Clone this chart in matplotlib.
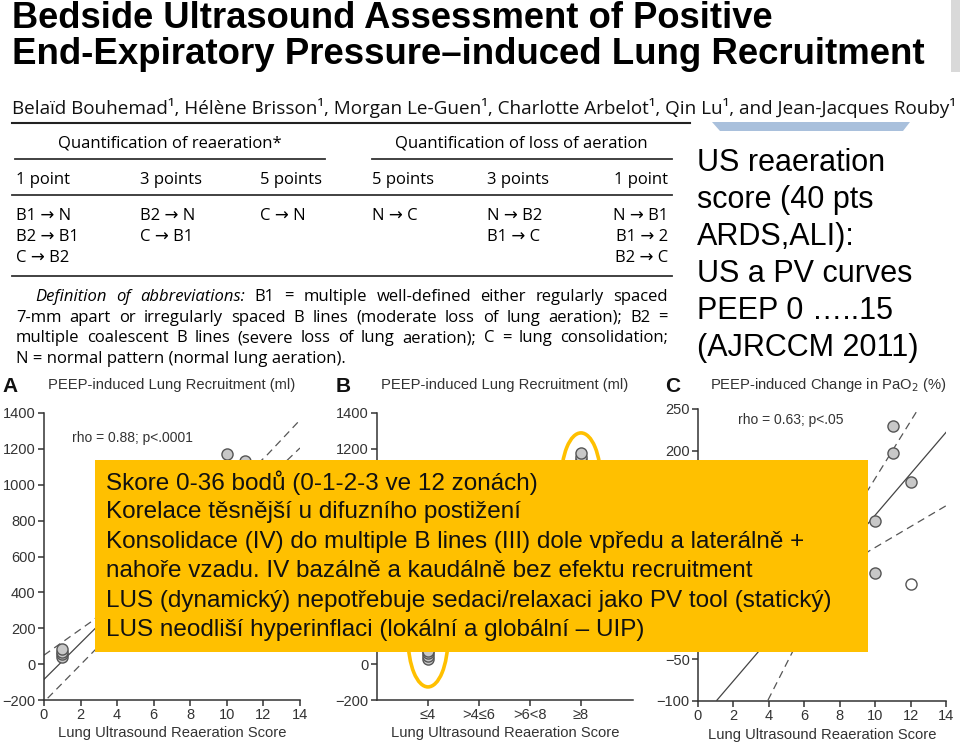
import matplotlib
matplotlib.use("Agg")
import matplotlib.pyplot as plt
from matplotlib.patches import Rectangle, Ellipse, Polygon

W, H = 960, 745

# ---- data ----
a_x = [1, 1, 1, 1, 10, 11]
a_y = [40, 55, 70, 85, 1170, 1135]
a_fit_x = [0, 12]
a_fit_y = [-85, 1132]
a_hi_x = [0, 2.7, 12.2, 14]
a_hi_y = [50, 245, 1166, 1361]
a_lo_x = [0.2, 2.8, 13.2, 14]
a_lo_y = [-190, 80, 1127, 1205]

b_cats = ['≤4', '>4≤6', '>6<8', '≥8']
b_pt_cat = ['≤4', '≤4', '≤4', '≤4', '≥8', '≥8', '≥8']
b_y = [30, 45, 60, 75, 1140, 1155, 1175]
b_ring_cat = ['≤4', '≥8']
b_ring_y = [143, 1019]

c_x = [11, 11, 12, 10, 10, 12]
c_y = [230, 197, 163, 116, 54, 40]
c_filled = [True, True, True, True, True, False]
c_fit_x = [1.07, 14]
c_fit_y = [-99, 222]
c_hi_x = [2, 9.6, 12.4]
c_hi_y = [-30, 153, 249]
c_lo_x = [3.95, 5.6, 9.6, 14]
c_lo_y = [-99, -30, 79, 134]

title_lines = ["Bedside Ultrasound Assessment of Positive",
               "End-Expiratory Pressure\u2013induced Lung Recruitment"]
authors = ("Bela\u00efd Bouhemad\u00b9, H\u00e9l\u00e8ne Brisson\u00b9, Morgan Le-Guen\u00b9, "
           "Charlotte Arbelot\u00b9, Qin Lu\u00b9, and Jean-Jacques Rouby\u00b9")
col_heads = ["1 point", "3 points", "5 points", "5 points", "3 points", "1 point"]
col_rows = [["B1 \u2192 N", "B2 \u2192 B1", "C \u2192 B2"],
            ["B2 \u2192 N", "C \u2192 B1"],
            ["C \u2192 N"],
            ["N \u2192 C"],
            ["N \u2192 B2", "B1 \u2192 C"],
            ["N \u2192 B1", "B1 \u2192 2", "B2 \u2192 C"]]
defs = ["7-mm apart or irregularly spaced B lines (moderate loss of lung aeration); B2 =",
        "multiple coalescent B lines (severe loss of lung aeration); C = lung consolidation;"]
side_lines = ["US reaeration", "score (40 pts", "ARDS,ALI):", "US a PV curves",
              "PEEP 0 \u2026..15", "(AJRCCM 2011)"]
box_lines = ["Skore 0-36 bod\u016f (0-1-2-3 ve 12 zon\u00e1ch)",
             "Korelace t\u011bsn\u011bj\u0161\u00ed u difuzn\u00edho posti\u017een\u00ed",
             "Konsolidace (IV) do multiple B lines (III) dole vp\u0159edu a later\u00e1ln\u011b +",
             "naho\u0159e vzadu. IV baz\u00e1ln\u011b a kaud\u00e1ln\u011b bez efektu recruitment",
             "LUS (dynamick\u00fd) nepot\u0159ebuje sedaci/relaxaci jako PV tool (statick\u00fd)",
             "LUS neodli\u0161\u00ed hyperinflaci (lok\u00e1ln\u00ed a glob\u00e1ln\u00ed \u2013 UIP)"]

plt.rcParams['font.family'] = ['Liberation Sans', 'DejaVu Sans']
tf = ['Open Sans', 'DejaVu Sans']
grey = '#333333'

fig = plt.figure(figsize=(W / 100, H / 100), dpi=100)
fig.patch.set_facecolor('white')
renderer = fig.canvas.get_renderer()


def fx(x):
    return x / W


def fy(y):
    return 1 - y / H


def ftext(x, y, s, **kw):
    kw.setdefault('va', 'center')
    return fig.text(fx(x), fy(y), s, **kw)


def fit(t, width, most=100):
    w = t.get_window_extent(renderer).width
    t.set_fontsize(min(most, t.get_fontsize() * width / w))


def hline(x0, x1, y, lw=1.3, color=grey):
    fig.add_artist(plt.Line2D([fx(x0), fx(x1)], [fy(y), fy(y)], lw=lw, color=color,
                              transform=fig.transFigure))


# ---- header ----
for s, y, w in zip(title_lines, [19, 55], [760, 916]):
    t = ftext(12, y, s, fontsize=26, weight='bold', color='black')
    fit(t, w, 28)
t = ftext(12, 108, authors, fontsize=12.2, family=tf, color='#111111')
fit(t, 943)
hline(12, 690, 123, lw=1.5, color='#222222')
fig.add_artist(Polygon([[fx(712), fy(122)], [fx(910), fy(122)], [fx(903), fy(131)], [fx(720), fy(131)]],
                       closed=True, facecolor='#a9c0dc', edgecolor='none', transform=fig.transFigure))
fig.add_artist(Rectangle((fx(951), fy(72)), fx(9), 72 / H, facecolor='#d9d9d9', edgecolor='none',
                         transform=fig.transFigure))

# ---- table ----
ts = 12
ftext(170, 144, "Quantification of reaeration*", fontsize=ts, family=tf, ha='center')
ftext(521, 144, "Quantification of loss of aeration", fontsize=ts, family=tf, ha='center')
hline(15, 325, 159)
hline(372, 672, 159)
hline(12, 672, 195)
hline(12, 672, 276)
col_x = [16, 140, 260, 372, 487, 668]
for i, (h, rows) in enumerate(zip(col_heads, col_rows)):
    ha = 'right' if i == 5 else 'left'
    ftext(col_x[i], 180, h, fontsize=ts, family=tf, ha=ha)
    for j, r in enumerate(rows):
        ftext(col_x[i], 216 + 21 * j, r, fontsize=ts, family=tf, ha=ha)


def justified(y, x0, x1, parts):
    tx = [ftext(0, y, w, fontsize=ts, family=tf, style=st) for w, st in parts]
    ws = [t.get_window_extent(renderer).width for t in tx]
    gap = (x1 - x0 - sum(ws)) / (len(tx) - 1)
    x = x0
    for t, w in zip(tx, ws):
        t.set_x(fx(x))
        x += w + gap


first = [("Definition", 'italic'), ("of", 'italic'), ("abbreviations:", 'italic')]
first += [(w, 'normal') for w in "B1 = multiple well-defined either regularly spaced".split()]
justified(297, 35, 668, first)
for k, line in enumerate(defs):
    justified(318 + 20.5 * k, 16, 668, [(w, 'normal') for w in line.split()])
ftext(16, 359, "N = normal pattern (normal lung aeration).", fontsize=ts, family=tf)

# ---- right side text ----
for k, s in enumerate(side_lines):
    ftext(697, 163 + 37 * k, s, fontsize=22)


# ---- scatter panels ----
def panel(l, t, r, b):
    ax = fig.add_axes([fx(l), fy(b), fx(r - l), (b - t) / H])
    for sp in ['top', 'right']:
        ax.spines[sp].set_visible(False)
    for sp in ['left', 'bottom']:
        ax.spines[sp].set_color(grey)
        ax.spines[sp].set_linewidth(1.1)
    ax.tick_params(colors=grey, labelsize=10.5, length=4, width=1.1, pad=2)
    ax.set_facecolor('none')
    return ax


mk = dict(marker='o', ms=8, mfc='#c8c8c8', mec='#555555', mew=1.0, ls='none', zorder=5)
dash = dict(color='#555555', lw=0.9, ls=(0, (6, 4)))

axA = panel(44, 413, 300, 700)
axA.plot(a_fit_x, a_fit_y, color='#444444', lw=0.9)
axA.plot(a_hi_x, a_hi_y, **dash)
axA.plot(a_lo_x, a_lo_y, **dash)
axA.plot(a_x, a_y, **mk)
axA.set_xlim(0, 14)
axA.set_ylim(-200, 1400)
axA.set_xticks(range(0, 15, 2))
axA.set_yticks(range(-200, 1401, 200))
axA.text(0.11, 0.9, "rho = 0.88; p<.0001", transform=axA.transAxes, fontsize=10, color=grey)

axB = panel(377, 413, 633, 700)
pos = {c: i + 1 for i, c in enumerate(b_cats)}
axB.plot([pos[c] for c in b_pt_cat], b_y, **mk)
for c, yc in zip(b_ring_cat, b_ring_y):
    axB.add_patch(Ellipse((pos[c], yc), 0.78, 540, fill=False, edgecolor='#FFC000', lw=2.6, zorder=6))
axB.set_xlim(0, 5.02)
axB.set_ylim(-200, 1400)
axB.set_xticks([pos[c] for c in b_cats])
axB.set_xticklabels(b_cats)
axB.set_yticks(range(-200, 1401, 200))

axC = panel(698, 409, 946, 701)
axC.plot(c_fit_x, c_fit_y, color='#444444', lw=0.9)
axC.plot(c_hi_x, c_hi_y, **dash)
axC.plot(c_lo_x, c_lo_y, **dash)
for x, y, f in zip(c_x, c_y, c_filled):
    axC.plot(x, y, **{**mk, 'mfc': '#c8c8c8' if f else 'white'})
axC.set_xlim(0, 14)
axC.set_ylim(-100, 250)
axC.set_xticks(range(0, 15, 2))
axC.set_yticks(range(-100, 251, 50))
axC.text(0.16, 0.95, "rho = 0.63; p<.05", transform=axC.transAxes, fontsize=10, color=grey)

for ax, lab, lx, tx, ttl in [(axA, 'A', 10, 48, "PEEP-induced Lung Recruitment (ml)"),
                             (axB, 'B', 343, 381, "PEEP-induced Lung Recruitment (ml)"),
                             (axC, 'C', 673, 710, "PEEP-induced Change in PaO$_2$ (%)")]:
    ax.set_xlabel("Lung Ultrasound Reaeration Score", fontsize=10.6, color=grey, labelpad=3)
    ftext(lx, 386, lab, fontsize=15, weight='bold', ha='center', color='#111111')
    ftext(tx, 385, ttl, fontsize=10.6, color=grey)

# ---- orange overlay box ----
fig.add_artist(Rectangle((fx(95), fy(652)), fx(868 - 95), (652 - 460) / H, facecolor='#FFC000',
                         edgecolor='none', transform=fig.transFigure, zorder=10))
for k, s in enumerate(box_lines):
    ftext(106, 483 + 29.4 * k, s, fontsize=17.5, color='#111111', zorder=11)

fig.savefig("out.png", dpi=100)
